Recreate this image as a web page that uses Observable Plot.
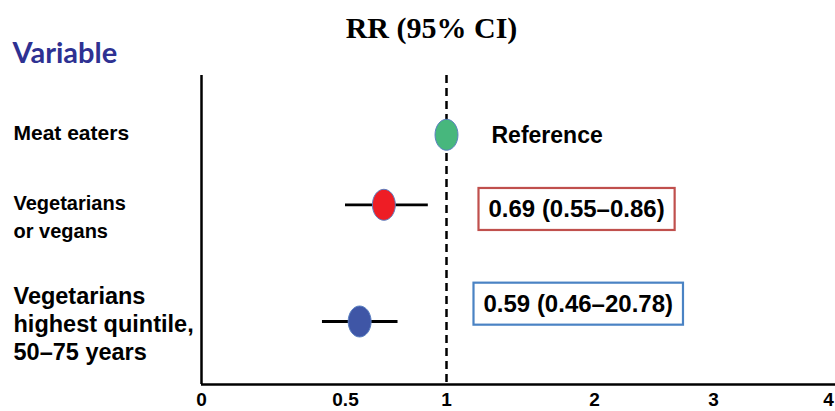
<!DOCTYPE html>
<html>
<head>
<meta charset="utf-8">
<script src="https://cdn.jsdelivr.net/npm/d3@7"></script>
<script src="https://cdn.jsdelivr.net/npm/@observablehq/plot@0.6"></script>
<style>
  body { margin: 0; background: #fff; }
  #chart { width: 835px; height: 411px; overflow: hidden; }
</style>
</head>
<body>
<div id="chart"></div>
<script>
// ---- data ----
const groups = ["Meat eaters", "Vegetarians\nor vegans", "Vegetarians\nhighest quintile,\n50–75 years"];
const rr = [1.0, 0.69, 0.57];
const ciLow = [null, 0.50, 0.42];
const ciHigh = [null, 0.91, 0.76];
const estimateLabels = ["Reference", "0.69 (0.55–0.86)", "0.59 (0.46–20.78)"];
const xTicks = [0, 0.5, 1, 2, 3, 4];
const xTickLabels = ["0", "0.5", "1", "2", "3", "4"];
const titleText = "RR (95% CI)";
const headerText = "Variable";
const nullValue = 1;

// ---- styles ----
const pointFill = ["#47b77d", "#ee1d25", "#3f56a6"];
const boxStroke = [null, "#c0504d", "#4a83c4"];
const labelDx = [45, 42, 37];
const labelDy = [1, 5, -17];
const labelSize = [23, 24, 24];
const rowFontSize = [21, 20, 23.5];
const rowLineHeight = [1.4, 1.4, 1.19];
const rowDy = [-4, 10, 1.5];

// row centres stacked by the number of lines in each row label
const lineCounts = groups.map(g => g.split("\n").length);
const rowPos = [];
let acc = 0;
lineCounts.forEach(n => { rowPos.push(acc + n / 2); acc += n; });

const rows = groups.map((g, i) => ({
  group: g, pos: rowPos[i], rr: rr[i], lo: ciLow[i], hi: ciHigh[i],
  label: estimateLabels[i], fill: pointFill[i]
}));

// ellipse symbol (taller than wide)
const ellipse = {
  draw(context, size) {
    const ry = Math.sqrt(size / Math.PI);
    const rx = ry * 0.74;
    const k = 0.5523;
    context.moveTo(0, -ry);
    context.bezierCurveTo(k * rx, -ry, rx, -k * ry, rx, 0);
    context.bezierCurveTo(rx, k * ry, k * rx, ry, 0, ry);
    context.bezierCurveTo(-k * rx, ry, -rx, k * ry, -rx, 0);
    context.bezierCurveTo(-rx, -k * ry, -k * rx, -ry, 0, -ry);
    context.closePath();
  }
};

const yDomain = [-0.77, 5.85];
const font = "'Liberation Sans', Arial, sans-serif";

const chart = Plot.plot({
  width: 835,
  height: 411,
  marginTop: 75,
  marginBottom: 27,
  marginLeft: 201,
  marginRight: 0,
  style: { fontFamily: font, color: "#000", background: "#fff", overflow: "visible" },
  x: { type: "linear", domain: xTicks, range: [201, 345, 446, 594, 713, 828] },
  y: { domain: yDomain, reverse: true, axis: null },
  color: { type: "identity" },
  marks: [
    Plot.ruleX([0], { stroke: "#000", strokeWidth: 2.5 }),
    Plot.ruleX([nullValue], { stroke: "#000", strokeWidth: 2.5, strokeDasharray: "8,5" }),
    Plot.ruleY([yDomain[1]], { stroke: "#000", strokeWidth: 2.5 }),
    Plot.ruleY(rows.filter(d => d.lo != null), { y: "pos", x1: "lo", x2: "hi", stroke: "#000", strokeWidth: 2.8 }),
    Plot.dot(rows, { x: "rr", y: "pos", r: 15.5, symbol: ellipse, fill: "fill", stroke: "#5a80c2", strokeWidth: 1 }),
    Plot.axisX({
      ticks: xTicks, tickSize: 0, tickPadding: 8, anchor: "bottom",
      tickFormat: d => xTickLabels[xTicks.indexOf(d)],
      fontSize: 19, fontWeight: "bold", fill: "#000"
    }),
    // row labels
    ...rows.map((r, i) => Plot.text([r], {
      y: "pos", text: "group", frameAnchor: "left", textAnchor: "start", dx: -188,
      lineAnchor: "middle", dy: rowDy[i], fontSize: rowFontSize[i], fontWeight: "bold",
      lineHeight: rowLineHeight[i], fill: "#000"
    })),
    // estimate labels
    ...rows.map((r, i) => Plot.text([r], {
      x: () => nullValue, y: "pos", text: "label", textAnchor: "start",
      dx: labelDx[i], dy: labelDy[i], fontSize: labelSize[i], fontWeight: "bold", fill: "#000"
    })),
    // header and title
    Plot.text([headerText], {
      frameAnchor: "top-left", text: d => d, textAnchor: "start", lineAnchor: "middle",
      dx: -189, dy: -22, fontSize: 29, fontWeight: "bold", fontFamily: "Lato, 'Open Sans', sans-serif", fill: "#2e3192"
    }),
    Plot.text([titleText], {
      frameAnchor: "top-left", text: d => d, textAnchor: "middle", lineAnchor: "middle",
      dx: 230, dy: -47.5, fontSize: 30, fontWeight: "bold", fontFamily: "'Liberation Serif', 'Times New Roman', serif", fill: "#000"
    })
  ]
});

document.getElementById("chart").appendChild(chart);

// boxes around the estimate labels
const svgRect = chart.getBoundingClientRect();
chart.querySelectorAll("text").forEach(t => {
  const i = estimateLabels.indexOf(t.textContent);
  if (i < 0 || !boxStroke[i]) return;
  const b = t.getBoundingClientRect();
  const padX = 10, padY = 7.5;
  const rect = document.createElementNS("http://www.w3.org/2000/svg", "rect");
  rect.setAttribute("x", b.left - svgRect.left - padX);
  rect.setAttribute("y", b.top - svgRect.top - padY);
  rect.setAttribute("width", b.width + 2 * padX);
  rect.setAttribute("height", b.height + 2 * padY);
  rect.setAttribute("fill", "none");
  rect.setAttribute("stroke", boxStroke[i]);
  rect.setAttribute("stroke-width", 2.2);
  chart.appendChild(rect);
});
</script>
</body>
</html>
